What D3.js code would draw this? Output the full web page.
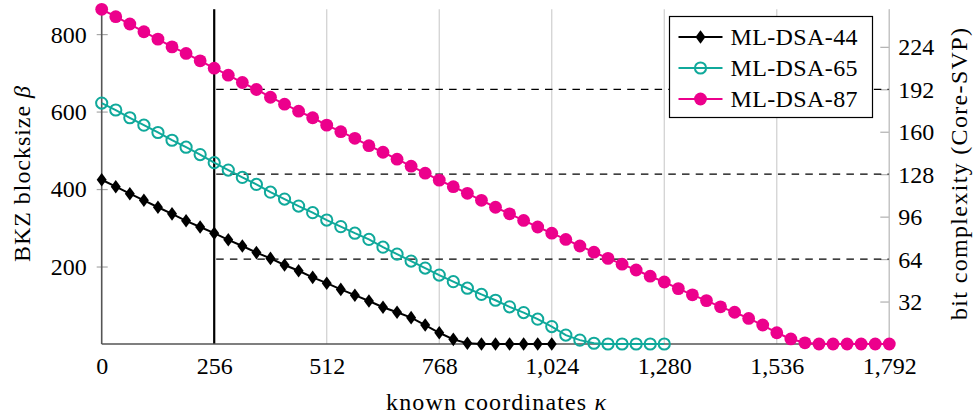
<!DOCTYPE html>
<html>
<head>
<meta charset="utf-8">
<script src="https://d3js.org/d3.v7.min.js"></script>
<style>
  body { margin:0; background:#fff; }
</style>
</head>
<body>
<svg id="plot"></svg>
<script>

// known coordinates (kappa), step 32
var kappa = [0,32,64,96,128,160,192,224,256,288,320,352,384,416,448,480,512,544,576,608,
             640,672,704,736,768,800,832,864,896,928,960,992,1024,1056,1088,1120,1152,1184,
             1216,1248,1280,1312,1344,1376,1408,1440,1472,1504,1536,1568,1600,1632,1664,
             1696,1728,1760,1792];

// BKZ blocksize beta per parameter set
var beta44 = [424,406,388,371,353,336,318,302,286,269,253,236,221,204,189,172,157,141,126,111,
              95,82,68,49,29,12,2,0,0,0,0,0,0];
var beta65 = [622,604,584,565,546,526,508,489,468,449,430,412,392,374,356,339,320,303,286,270,
              250,232,214,196,178,161,144,128,113,96,81,64,45,23,10,2,0,0,0,0,0];
var beta87 = [864,845,826,806,787,767,750,731,712,694,675,657,637,619,601,584,565,548,531,512,
              495,477,459,441,423,406,389,371,353,336,319,302,286,270,253,237,221,206,191,175,
              160,143,127,112,96,82,66,49,29,13,3,0,0,0,0,0,0];

var seriesNames = ["ML-DSA-44","ML-DSA-65","ML-DSA-87"];

var xTicks = [0,256,512,768,1024,1280,1536,1792];
var yTicks = [200,400,600,800];
var bitTicks = [32,64,96,128,160,192,224];
var levelLines = [64,128,192];   // bit levels, dashed
var markLine = 256;              // solid vertical line
var coreSvp = 0.292;             // bits per blocksize

var serif = "'Liberation Serif','Times New Roman','DejaVu Serif',serif";

var screen = {width:977, height:418};
var plot = {left:101.7, right:889.3, top:9.3, bottom:344};

var svg = d3.select("#plot")
    .attr("width",screen.width)
    .attr("height",screen.height)
    .attr("font-family",serif);

var xScale = d3.scaleLinear().domain([0,1792]).range([plot.left,plot.right]);
var yScale = d3.scaleLinear().domain([0,864]).range([plot.bottom,plot.top]);
var bitScale = d3.scaleLinear().domain([0,864*coreSvp]).range([plot.bottom,plot.top]);

//grid
svg.append("g")
    .selectAll("line")
    .data(xTicks.slice(1))
    .enter()
    .append("line")
    .attr("x1",function(d){return xScale(d);})
    .attr("x2",function(d){return xScale(d);})
    .attr("y1",plot.top)
    .attr("y2",plot.bottom)
    .attr("stroke","#cfcfcf")
    .attr("stroke-width",1.2);

//tidy up a d3 axis so it looks like the pgfplots one
var styleAxis = function(ax)
{
    ax.select(".domain").remove();
    ax.attr("font-family",serif).attr("font-size",24);
    ax.selectAll(".tick text").attr("fill","#000");
}

//right axis ticks
var rightAxis = svg.append("g")
    .attr("transform","translate("+plot.right+",0)")
    .call(d3.axisRight(bitScale).tickValues(bitTicks).tickSize(0).tickPadding(9));
styleAxis(rightAxis);
rightAxis.selectAll(".tick line")
    .attr("x1",-9).attr("x2",0)
    .attr("stroke","#b0b0b0").attr("stroke-width",1.2);
rightAxis.selectAll(".tick text").attr("dy","0.33em");

//dashed level lines
svg.append("g")
    .selectAll("line")
    .data(levelLines)
    .enter()
    .append("line")
    .attr("x1",xScale(markLine)+2)
    .attr("x2",plot.right)
    .attr("y1",function(d){return bitScale(d);})
    .attr("y2",function(d){return bitScale(d);})
    .attr("stroke","#000")
    .attr("stroke-width",1.3)
    .attr("stroke-dasharray","7.5,6.2");

//vertical line at 256
svg.append("line")
    .attr("x1",xScale(markLine)).attr("x2",xScale(markLine))
    .attr("y1",plot.top).attr("y2",plot.bottom)
    .attr("stroke","#000").attr("stroke-width",2.2);

//axes
svg.append("line")
    .attr("x1",plot.right).attr("x2",plot.right)
    .attr("y1",plot.top).attr("y2",plot.bottom)
    .attr("stroke","#c4c4c4").attr("stroke-width",1.3);

var leftAxis = svg.append("g")
    .attr("transform","translate("+plot.left+",0)")
    .call(d3.axisLeft(yScale).tickValues(yTicks).tickSize(0).tickPadding(15));
styleAxis(leftAxis);
leftAxis.selectAll(".tick line")
    .attr("x1",-5).attr("x2",6)
    .attr("stroke","#a8a8a8").attr("stroke-width",1.2);
leftAxis.selectAll(".tick text").attr("dy","0.33em");

var bottomAxis = svg.append("g")
    .attr("transform","translate(0,"+plot.bottom+")")
    .call(d3.axisBottom(xScale).tickValues(xTicks).tickSize(0).tickPadding(13).tickFormat(d3.format(",")));
styleAxis(bottomAxis);

svg.append("line")
    .attr("x1",plot.left).attr("x2",plot.left)
    .attr("y1",plot.top).attr("y2",plot.bottom)
    .attr("stroke","#555").attr("stroke-width",1.6);
svg.append("line")
    .attr("x1",plot.left).attr("x2",plot.right)
    .attr("y1",plot.bottom).attr("y2",plot.bottom)
    .attr("stroke","#555").attr("stroke-width",1.6);

//series
var series = [
    {name:seriesNames[0], values:beta44, color:"#000000", marker:"diamond"},
    {name:seriesNames[1], values:beta65, color:"#10a99b", marker:"open"},
    {name:seriesNames[2], values:beta87, color:"#ec008c", marker:"filled"}
];

var lineGenerator = d3.line()
    .x(function(v,i){return xScale(kappa[i]);})
    .y(function(v){return yScale(v);});

var drawMarker = function(sel,s)
{
    if (s.marker=="diamond") {
        sel.append("path")
            .attr("d","M0,-6.8L5,0L0,6.8L-5,0Z")
            .attr("fill",s.color);
    } else if (s.marker=="open") {
        sel.append("circle")
            .attr("r",5.6)
            .attr("fill","none")
            .attr("stroke",s.color)
            .attr("stroke-width",2);
    } else {
        sel.append("circle")
            .attr("r",6.4)
            .attr("fill",s.color);
    }
}

series.forEach(function(s)
{
    var g = svg.append("g");
    g.append("path")
        .datum(s.values)
        .attr("d",lineGenerator)
        .attr("fill","none")
        .attr("stroke",s.color)
        .attr("stroke-width",2);
    g.selectAll("g")
        .data(s.values)
        .enter()
        .append("g")
        .attr("transform",function(v,i){return "translate("+xScale(kappa[i])+","+yScale(v)+")";})
        .each(function(){ drawMarker(d3.select(this),s); });
});

//labels (stretched a bit, Computer Modern runs wider than Times)
svg.append("text")
    .attr("x",496)
    .attr("y",410)
    .attr("text-anchor","middle")
    .attr("font-size",24)
    .attr("textLength",220)
    .attr("lengthAdjust","spacing")
    .html('known coordinates <tspan font-style="italic">κ</tspan>');

svg.append("text")
    .attr("transform","translate(30,174) rotate(-90)")
    .attr("text-anchor","middle")
    .attr("font-size",24)
    .attr("textLength",176)
    .attr("lengthAdjust","spacing")
    .html('BKZ blocksize <tspan font-style="italic">β</tspan>');

svg.append("text")
    .attr("transform","translate(967,174) rotate(-90)")
    .attr("text-anchor","middle")
    .attr("font-size",24)
    .attr("textLength",292)
    .attr("lengthAdjust","spacing")
    .text("bit complexity (Core-SVP)");

//legend
var legend = svg.append("g").attr("transform","translate(669.5,16.5)");
legend.append("rect")
    .attr("width",203).attr("height",101)
    .attr("fill","#fff").attr("stroke","#000").attr("stroke-width",1.2);
series.forEach(function(s,i)
{
    var row = legend.append("g").attr("transform","translate(0,"+(20.5+i*31)+")");
    row.append("line")
        .attr("x1",9).attr("x2",53)
        .attr("stroke",s.color).attr("stroke-width",2);
    drawMarker(row.append("g").attr("transform","translate(31,0)"),s);
    row.append("text")
        .attr("x",61).attr("y",8.3)
        .attr("font-size",24)
        .attr("textLength",127)
        .attr("lengthAdjust","spacing")
        .text(s.name);
});

</script>
</body>
</html>
